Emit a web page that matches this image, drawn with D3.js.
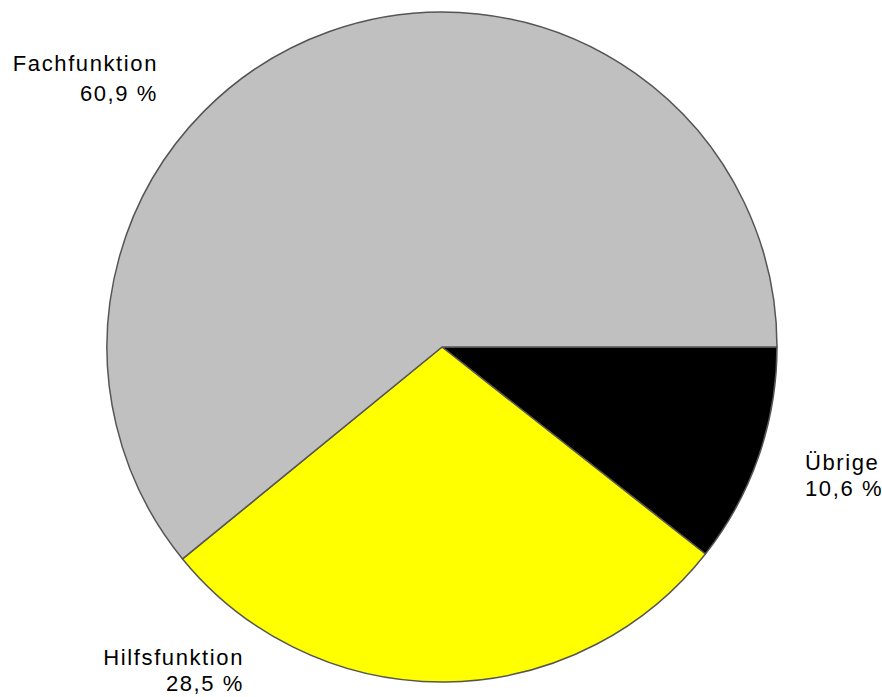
<!DOCTYPE html>
<html>
<head>
<meta charset="utf-8">
<script src="https://cdn.jsdelivr.net/npm/d3@7"></script>
<style>
html,body{margin:0;padding:0;background:#fff;}
svg{display:block;}
text{font-family:"Liberation Sans",Arial,sans-serif;font-size:22px;fill:#000;letter-spacing:1.6px;}
</style>
</head>
<body>
<svg id="chart" width="882" height="697"></svg>
<script>
const categories = ["Übrige", "Hilfsfunktion", "Fachfunktion"];
const values = [10.6, 28.5, 60.9];
const valueLabels = ["10,6 %", "28,5 %", "60,9 %"];
const colors = ["#000000", "#ffff00", "#c0c0c0"];

const svg = d3.select("#chart");
const cx = 442, cy = 347, r = 335;
const g = svg.append("g").attr("transform", `translate(${cx},${cy})`);

const pie = d3.pie().sort(null).value(d => d.v)
  .startAngle(Math.PI / 2).endAngle(Math.PI / 2 + 2 * Math.PI);
const arc = d3.arc().innerRadius(0).outerRadius(r);
const data = categories.map((c, i) => ({c, v: values[i], lab: valueLabels[i], col: colors[i]}));

g.selectAll("path").data(pie(data)).join("path")
  .attr("d", arc)
  .attr("fill", d => d.data.col)
  .attr("stroke", "#555555")
  .attr("stroke-width", 1.5)
  .attr("stroke-linejoin", "round");

// label positions (name baseline, value baseline, anchor)
const labelPos = {
  "Übrige": {x: 805, y1: 470, y2: 496, anchor: "start"},
  "Hilfsfunktion": {x: 244, y1: 665, y2: 691, anchor: "end"},
  "Fachfunktion": {x: 158, y1: 71, y2: 101, anchor: "end"}
};
data.forEach(d => {
  const p = labelPos[d.c];
  const t = svg.append("text").attr("text-anchor", p.anchor);
  t.append("tspan").attr("x", p.x).attr("y", p.y1).text(d.c);
  t.append("tspan").attr("x", p.x).attr("y", p.y2).text(d.lab);
});
</script>
</body>
</html>
